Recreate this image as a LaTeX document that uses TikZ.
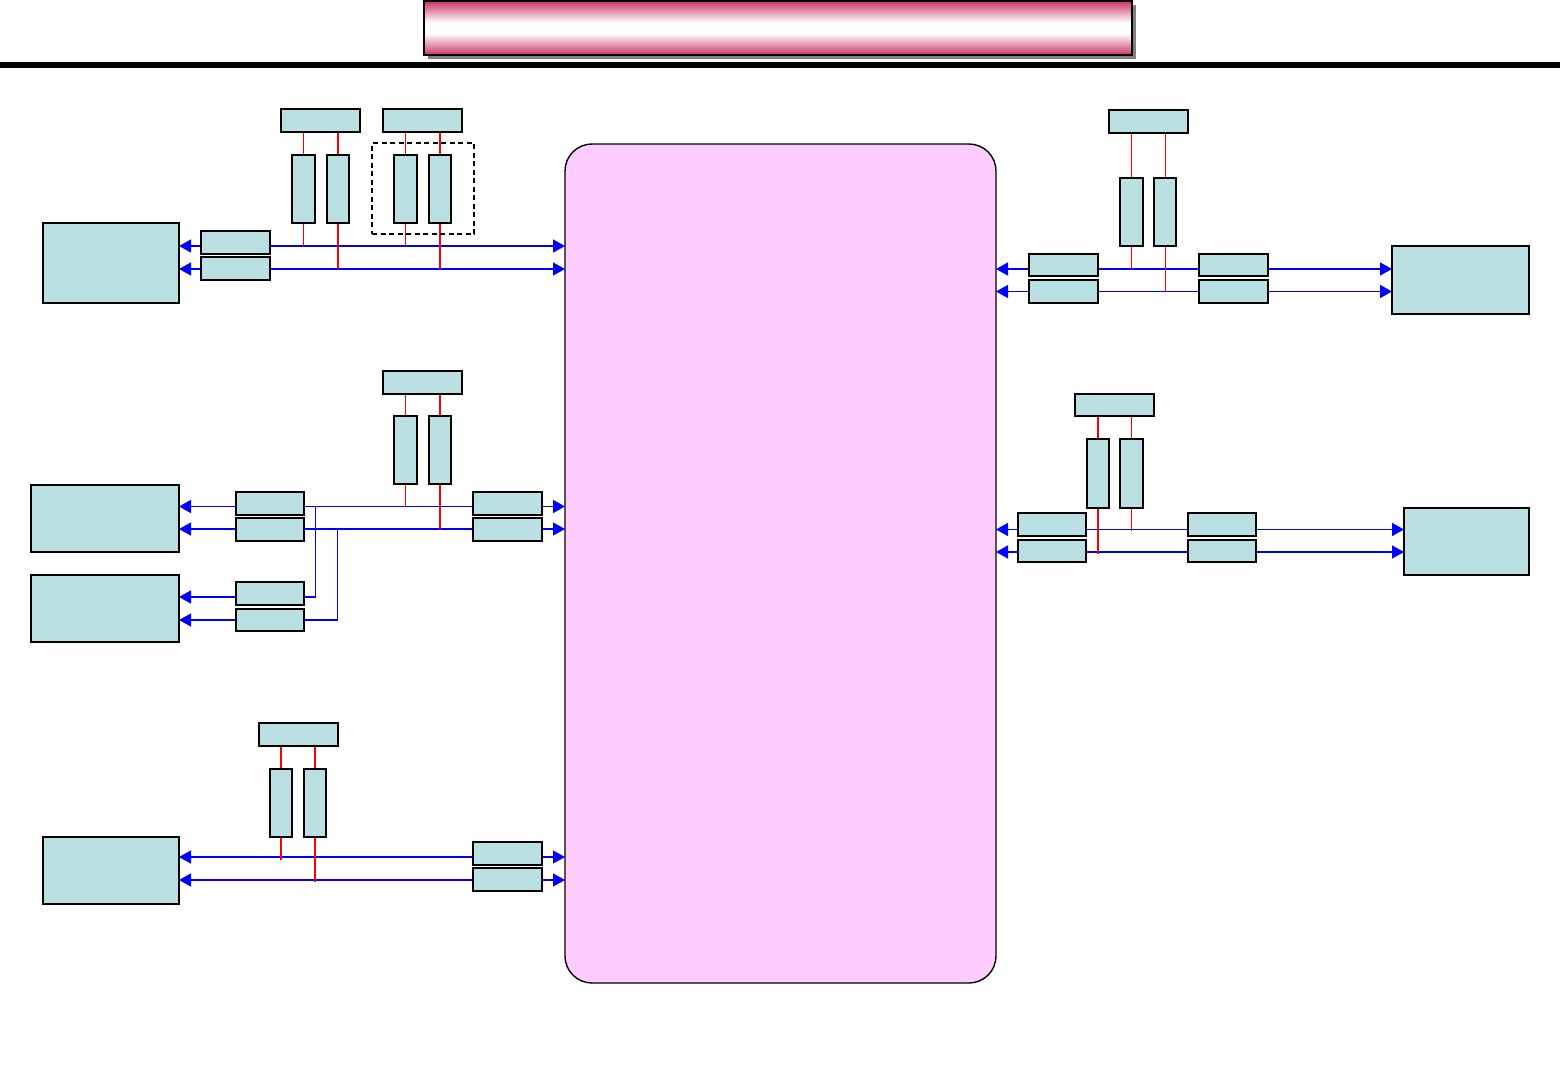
\documentclass[tikz,border=0pt]{standalone}
\usetikzlibrary{arrows.meta,calc}
\definecolor{cellfill}{HTML}{BBE0E3}
\definecolor{corepink}{HTML}{FFCCFF}
\definecolor{busblue}{HTML}{0000FF}
\pgfdeclarelayer{wires}
\pgfsetlayers{wires,main}
\pgfdeclareverticalshading{titleband}{100bp}{
  rgb(0bp)=(0.80,0.20,0.40); rgb(25bp)=(0.80,0.20,0.40); rgb(45bp)=(1,1,1);
  rgb(55bp)=(1,1,1); rgb(75bp)=(0.80,0.20,0.40); rgb(100bp)=(0.80,0.20,0.40)}
\tikzset{
  cell/.style={draw=black,line width=1.9pt,fill=cellfill,inner sep=0pt,outer sep=0pt},
  thinedge/.style={line width=1.3pt},
  corebox/.style={draw=black,line width=1.4pt,fill=corepink,inner sep=0pt,outer sep=0pt,rounded corners=27pt},
  titlebox/.style={draw=black,line width=1.8pt,shading=titleband,inner sep=0pt,outer sep=0pt},
  shadowbox/.style={fill=black!50,inner sep=0pt,outer sep=0pt},
  rulebar/.style={fill=black,inner sep=0pt,outer sep=0pt},
  groupbox/.style={draw=black,line width=1.4pt,dash pattern=on 5pt off 3.5pt,inner sep=0pt,outer sep=0pt},
  bus/.style={draw=busblue,line width=1.5pt},
  busboth/.style={bus,{Triangle[length=12pt,width=13pt]}-{Triangle[length=12pt,width=13pt]}},
  busleft/.style={bus,{Triangle[length=12pt,width=13pt]}-},
  tapthin/.style={draw=red,line width=0.9pt},
  tapthick/.style={draw=red,line width=1.8pt}
}
\newcommand{\bx}[6][cell]{%
  \pgfmathsetmacro{\bxw}{#5-#3}\pgfmathsetmacro{\bxh}{#6-#4}%
  \pgfmathsetmacro{\bxcx}{(#5+#3)/2}\pgfmathsetmacro{\bxcy}{(#6+#4)/2}%
  \node[#1,minimum width=\bxw pt,minimum height=\bxh pt] (#2) at (\bxcx,\bxcy) {};}
\begin{document}
\begin{tikzpicture}[x=1pt,y=-1pt]
\useasboundingbox (0,0) rectangle (1561,1081);
% title
\bx[shadowbox]{titleshadow}{428}{5}{1136}{59}
\bx[titlebox]{title}{424}{1}{1132}{55}
\bx[rulebar]{rule}{0}{62}{1560}{68}
% core
\bx[corebox]{core}{565}{144}{996}{983}
% top left group
\bx{lta}{43}{223}{179}{303}
\bx{ltb}{201}{231}{270}{254}
\bx{ltc}{201}{257}{270}{280}
\bx[cell,thinedge]{ltp}{281}{109}{360}{132}
\bx{ltq}{383}{109}{462}{132}
\bx{ltr}{292}{155}{315}{223}
\bx{lts}{327}{155}{349}{223}
\bx{ltt}{394}{155}{417}{223}
\bx{ltu}{429}{155}{451}{223}
\bx[groupbox]{ltgroup}{372}{143}{474}{234}
% middle left group
\bx[cell,thinedge]{lma}{31}{485}{179}{552}
\bx[cell,thinedge]{lmb}{31}{575}{179}{642}
\bx{lmc}{236}{492}{304}{515}
\bx{lmd}{236}{518}{304}{541}
\bx{lme}{236}{582}{304}{605}
\bx{lmf}{236}{609}{304}{631}
\bx{lmg}{473}{492}{542}{515}
\bx{lmh}{473}{518}{542}{541}
\bx[cell,thinedge]{lmp}{383}{371}{462}{394}
\bx{lmq}{394}{416}{417}{484}
\bx{lmr}{429}{416}{451}{484}
% bottom left group
\bx{lba}{43}{837}{179}{904}
\bx{lbp}{259}{723}{338}{746}
\bx{lbq}{270}{769}{292}{837}
\bx{lbr}{304}{769}{326}{837}
\bx{lbs}{473}{842}{542}{865}
\bx{lbt}{473}{868}{542}{891}
% top right group
\bx{rta}{1392}{246}{1529}{314}
\bx{rtp}{1109}{110}{1188}{133}
\bx{rtq}{1120}{178}{1143}{246}
\bx{rtr}{1154}{178}{1176}{246}
\bx[cell,thinedge]{rtb}{1029}{254}{1098}{276}
\bx{rtc}{1029}{280}{1098}{303}
\bx[cell,thinedge]{rtd}{1199}{254}{1268}{276}
\bx{rte}{1199}{280}{1268}{303}
% middle right group
\bx[cell,thinedge]{rma}{1404}{508}{1529}{575}
\bx[cell,thinedge]{rmp}{1075}{394}{1154}{416}
\bx[cell,thinedge]{rmq}{1087}{439}{1109}{508}
\bx{rmr}{1120}{439}{1143}{508}
\bx{rmb}{1018}{513}{1086}{536}
\bx[cell,thinedge]{rmc}{1018}{540}{1086}{562}
\bx{rmd}{1188}{513}{1256}{536}
\bx[cell,thinedge]{rme}{1188}{540}{1256}{562}
% free ends
\coordinate (rowa) at (0,246);
\coordinate (rowb) at (0,269);
\coordinate (rowc) at (0,506.5);
\coordinate (rowd) at (0,529);
\coordinate (rowe) at (0,597);
\coordinate (rowf) at (0,620);
\coordinate (rowg) at (0,857);
\coordinate (rowh) at (0,880);
\coordinate (rowi) at (0,269);
\coordinate (rowj) at (0,291.5);
\coordinate (rowk) at (0,529.5);
\coordinate (rowl) at (0,552);
\coordinate (colm) at (315.5,0);
\coordinate (coln) at (337.5,0);
\coordinate (lbendq) at (281,860);
\coordinate (lbendr) at (315,882);
\coordinate (rmendq) at (1098,554);
\coordinate (rmendr) at (1131.5,531);
\begin{pgfonlayer}{wires}
  \draw[busboth] (rowa -| lta.east) -- (rowa -| core.west);
  \draw[busboth] (rowb -| lta.east) -- (rowb -| core.west);
  \draw[busboth] (rowc -| lma.east) -- (rowc -| core.west);
  \draw[busboth] (rowd -| lma.east) -- (rowd -| core.west);
  \draw[busleft] (rowe -| lmb.east) -- (rowe -| lme.east) -- (rowe -| colm) -- (rowc -| colm);
  \draw[busleft] (rowf -| lmb.east) -- (rowf -| lmf.east) -- (rowf -| coln) -- (rowd -| coln);
  \draw[busboth] (rowg -| lba.east) -- (rowg -| core.west);
  \draw[busboth] (rowh -| lba.east) -- (rowh -| core.west);
  \draw[busboth] (rowi -| core.east) -- (rowi -| rta.west);
  \draw[busboth] (rowj -| core.east) -- (rowj -| rta.west);
  \draw[busboth] (rowk -| core.east) -- (rowk -| rma.west);
  \draw[busboth] (rowl -| core.east) -- (rowl -| rma.west);
  % taps
  \draw[tapthin] (ltr.north |- ltp.south) -- (ltr.north) (ltr.south) -- (ltr.south |- rowa);
  \draw[tapthick] (lts.north |- ltp.south) -- (lts.north) (lts.south) -- (lts.south |- rowb);
  \draw[tapthin] (ltt.north |- ltq.south) -- (ltt.north) (ltt.south) -- (ltt.south |- rowa);
  \draw[tapthick] (ltu.north |- ltq.south) -- (ltu.north) (ltu.south) -- (ltu.south |- rowb);
  \draw[tapthin] (lmq.north |- lmp.south) -- (lmq.north) (lmq.south) -- (lmq.south |- rowc);
  \draw[tapthick] (lmr.north |- lmp.south) -- (lmr.north) (lmr.south) -- (lmr.south |- rowd);
  \draw[tapthick] (lbq.north |- lbp.south) -- (lbq.north) (lbq.south) -- (lbendq -| lbq.south);
  \draw[tapthick] (lbr.north |- lbp.south) -- (lbr.north) (lbr.south) -- (lbendr -| lbr.south);
  \draw[tapthin] (rtq.north |- rtp.south) -- (rtq.north) (rtq.south) -- (rtq.south |- rowi);
  \draw[tapthin] (rtr.north |- rtp.south) -- (rtr.north) (rtr.south) -- (rtr.south |- rowj);
  \draw[tapthick] (rmq.north |- rmp.south) -- (rmq.north) (rmq.south) -- (rmendq -| rmq.south);
  \draw[tapthin] (rmr.north |- rmp.south) -- (rmr.north) (rmr.south) -- (rmendr -| rmr.south);
\end{pgfonlayer}
\end{tikzpicture}
\end{document}
